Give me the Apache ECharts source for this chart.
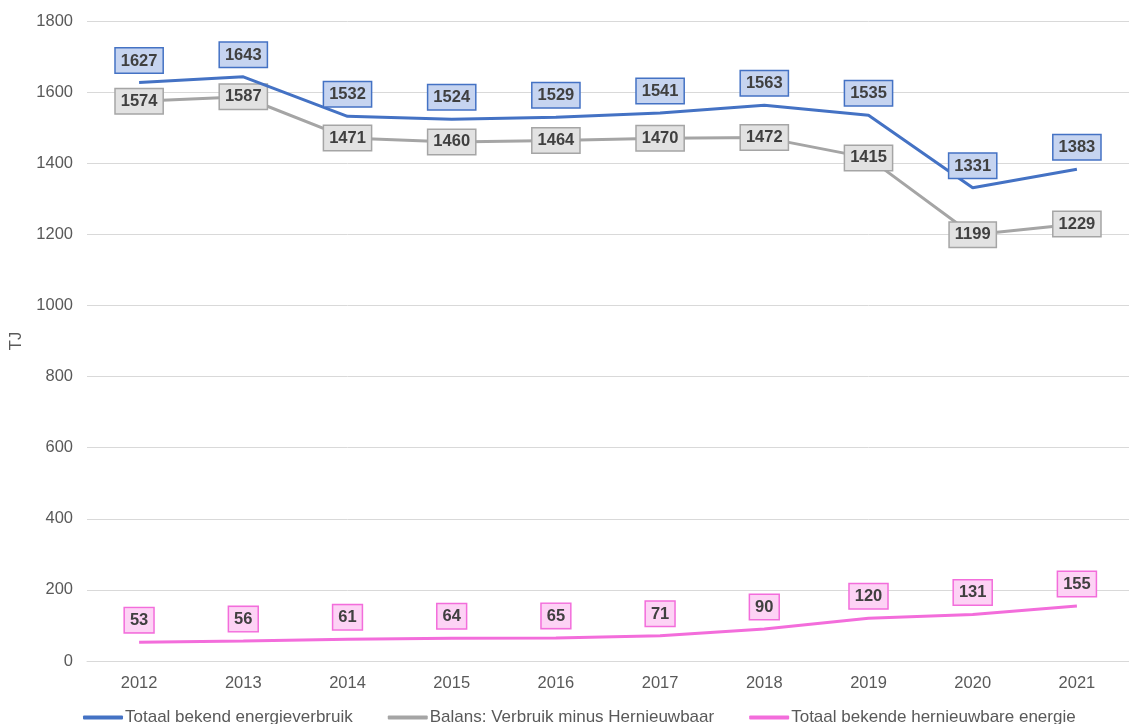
<!DOCTYPE html>
<html>
<head>
<meta charset="utf-8">
<script src="https://cdn.jsdelivr.net/npm/echarts@6/dist/echarts.min.js"></script>
<style>
html,body{margin:0;padding:0;background:#fff;}
#chart{width:1129px;height:724px;}
</style>
</head>
<body>
<div id="chart"></div>
<script>
var jaren = ['2012','2013','2014','2015','2016','2017','2018','2019','2020','2021'];
var totaalVerbruik = [1627,1643,1532,1524,1529,1541,1563,1535,1331,1383];
var balans = [1574,1587,1471,1460,1464,1470,1472,1415,1199,1229];
var hernieuwbaar = [53,56,61,64,65,71,90,120,131,155];

var namen = ['Totaal bekend energieverbruik','Balans: Verbruik minus Hernieuwbaar','Totaal bekende hernieuwbare energie'];

function label(pos, bg, rand, afstand){
    return {
        show: true,
        position: pos,
        distance: afstand,
        fontFamily: 'Liberation Sans, Arial',
        fontSize: 16.5,
        fontWeight: 'bold',
        color: '#404040',
        backgroundColor: bg,
        borderColor: rand,
        borderWidth: 1.5,
        padding: [4, 5, 3, 5]
    };
}

var myChart = echarts.init(document.getElementById('chart'));
var option = {
    animation: false,
    textStyle: {fontFamily: 'Liberation Sans, Arial'},
    grid: {left: 86, top: 21, width: 1056, height: 640},
    legend: {
        top: 709,
        left: 83,
        padding: 0,
        itemWidth: 40,
        itemHeight: 4,
        itemGap: 35,
        icon: 'roundRect',
        textStyle: {fontSize: 17, color: '#595959', padding: [0, 0, 0, -3]},
        data: namen
    },
    xAxis: {
        type: 'category',
        data: jaren,
        boundaryGap: true,
        axisLine: {lineStyle: {color: '#d9d9d9', width: 1}},
        axisTick: {show: false},
        axisLabel: {fontSize: 16.5, color: '#595959', margin: 14}
    },
    yAxis: {
        type: 'value',
        min: 0,
        max: 1800,
        interval: 200,
        name: 'TJ',
        nameLocation: 'middle',
        nameGap: 62,
        nameTextStyle: {fontSize: 16.5, color: '#595959'},
        axisLabel: {fontSize: 16.5, color: '#595959', margin: 14, formatter: function (v) { return String(v); }},
        splitLine: {lineStyle: {color: '#d9d9d9', width: 1}}
    },
    series: [
        {
            name: namen[0],
            type: 'line',
            data: totaalVerbruik,
            symbol: 'circle',
            symbolSize: 0,
            lineStyle: {color: '#4472c4', width: 3},
            itemStyle: {color: '#4472c4'},
            label: label('top', '#c6d4f0', '#4472c4', 10),
            z: 3
        },
        {
            name: namen[1],
            type: 'line',
            data: balans,
            symbol: 'circle',
            symbolSize: 0,
            lineStyle: {color: '#a5a5a5', width: 3},
            itemStyle: {color: '#a5a5a5'},
            label: label('inside', '#e2e2e2', '#a5a5a5', 0),
            z: 2
        },
        {
            name: namen[2],
            type: 'line',
            data: hernieuwbaar,
            symbol: 'circle',
            symbolSize: 0,
            lineStyle: {color: '#f36ddb', width: 3},
            itemStyle: {color: '#f36ddb'},
            label: label('top', '#fdd3f5', '#f36ddb', 10),
            z: 2
        }
    ]
};
myChart.setOption(option);
</script>
</body>
</html>
